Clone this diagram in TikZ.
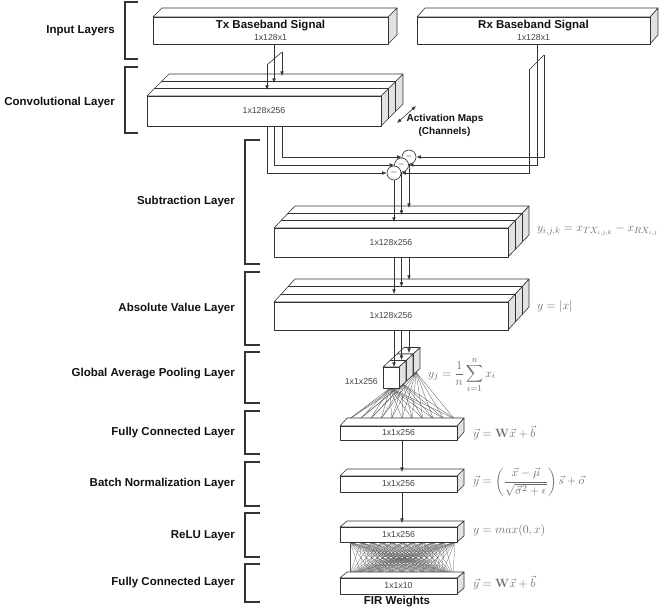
\documentclass[tikz,border=0pt]{standalone}
\usepackage{amsmath}
\usepackage[no-math]{fontspec}
\setmainfont{Liberation Sans}
\usetikzlibrary{arrows.meta}
\definecolor{edgec}{HTML}{333333}
\definecolor{sidec}{HTML}{E2E2E2}
\definecolor{formc}{HTML}{6A6A6A}
\definecolor{labc}{HTML}{111111}
\definecolor{dimc}{HTML}{444444}
\definecolor{meshc}{HTML}{555555}
\tikzset{
 boxe/.style={draw=edgec, line width=0.6pt, line join=round},
 conn/.style={draw=edgec, line width=0.6pt},
 arr/.style={conn, -{Latex[length=4.5pt,width=3.6pt]}},
 brk/.style={draw=edgec, line width=1.4pt},
 lab/.style={font=\bfseries\fontsize{11.5}{13}\selectfont, text=labc, anchor=east, inner sep=0},
 ttl/.style={font=\bfseries\fontsize{11.5}{13}\selectfont, text=labc, inner sep=0},
 small/.style={font=\bfseries\fontsize{10}{12}\selectfont, text=labc, inner sep=0},
 dim/.style={font=\fontsize{8.7}{10}\selectfont, text=dimc, inner sep=0},
 form/.style={font=\fontsize{13}{15}\selectfont, text=formc, anchor=west, inner sep=0},
 fan/.style={draw=meshc, line width=0.3pt},
 minus/.style={circle, draw=edgec, fill=white, line width=0.6pt, minimum size=14pt, inner sep=0, font=\fontsize{8}{8}\selectfont},
}
% x, y (front top-left), w, h, dx, dy, layers, name, text
\newcommand{\cuboid}[9]{%
 \filldraw[boxe, fill=sidec] (#1+#3,#2) -- ++(#5,-#6) -- ++(0,#4) -- ++(-#5,#6) -- cycle;
 \filldraw[boxe, fill=white] (#1,#2) -- ++(#5,-#6) -- ++(#3,0) -- ++(-#5,#6) -- cycle;
 \ifnum#7=3
  \draw[boxe] (#1+#5/3,#2-#6/3) -- ++(#3,0) (#1+#5*2/3,#2-#6*2/3) -- ++(#3,0);
  \draw[boxe] (#1+#3+#5/3,#2-#6/3) -- ++(0,#4) (#1+#3+#5*2/3,#2-#6*2/3) -- ++(0,#4);
 \fi
 \node[boxe, fill=white, minimum width=#3, minimum height=#4, anchor=north west, inner sep=0, outer sep=0, dim] (#8) at (#1,#2) {#9};
}
\begin{document}
\begin{tikzpicture}[x=1pt,y=-1pt]
\useasboundingbox (0,0) rectangle (665,609);
% ---------- brackets and labels ----------
\draw[brk] (138,2) -- (125,2) -- (125,59) -- (138,59);
\draw[brk] (138,67) -- (125,67) -- (125,133) -- (138,133);
\draw[brk] (260,140) -- (245,140) -- (245,264) -- (260,264);
\draw[brk] (260,272) -- (245,272) -- (245,345) -- (260,345);
\draw[brk] (260,352) -- (245,352) -- (245,403) -- (260,403);
\draw[brk] (260,411) -- (245,411) -- (245,454) -- (260,454);
\draw[brk] (260,462) -- (245,462) -- (245,506) -- (260,506);
\draw[brk] (260,513) -- (245,513) -- (245,557) -- (260,557);
\draw[brk] (260,564) -- (245,564) -- (245,602) -- (260,602);
\node[lab] (l1) at (115,31) {Input Layers};
\node[lab] (l2) at (115,103) {Convolutional Layer};
\node[lab] (l3) at (235,202) {Subtraction Layer};
\node[lab] (l4) at (235,309) {Absolute Value Layer};
\node[lab] (l5) at (235,374) {Global Average Pooling Layer};
\node[lab] (l6) at (235,433) {Fully Connected Layer};
\node[lab] (l7) at (235,484) {Batch Normalization Layer};
\node[lab] (l8) at (235,536) {ReLU Layer};
\node[lab] (l9) at (235,583) {Fully Connected Layer};
% ---------- input boxes ----------
\cuboid{153}{17}{235}{27}{9}{9}{1}{tx}{}
\cuboid{417}{17}{233}{27}{8}{9}{1}{rx}{}
\node[ttl] (txt) at (270.5,25.5) {Tx Baseband Signal};
\node[dim] (txd) at (270.5,37.5) {1x128x1};
\node[ttl] (rxt) at (533.5,25.5) {Rx Baseband Signal};
\node[dim] (rxd) at (533.5,37.5) {1x128x1};
% ---------- convolutional layer ----------
\cuboid{147}{96}{234}{30}{22}{22}{3}{conv}{1x128x256}
\coordinate (txo) at (274,44);
\coordinate (tx1) at (267,65);
\coordinate (tx3) at (282,52);
\coordinate (cvi1) at (267,90);
\coordinate (cvi2) at (274,83);
\coordinate (cvi3) at (282,76);
\draw[conn] (tx1) -- (tx3);
\draw[arr] (tx1) -- (cvi1);
\draw[arr] (txo) -- (cvi2);
\draw[arr] (tx3) -- (cvi3);
\coordinate (am1) at (397,123);
\coordinate (am2) at (416,106);
\draw[conn, {Latex[length=4.5pt,width=3.6pt]}-{Latex[length=4.5pt,width=3.6pt]}] (am1) -- (am2);
\node[small] (amt) at (445,118.5) {Activation Maps};
\node[small] (amc) at (444.5,131.5) {(Channels)};
% ---------- subtraction ----------
\node[minus] (c1) at (409,157) {$-$};
\node[minus] (c2) at (401.5,165) {$-$};
\node[minus] (c3) at (394,173) {$-$};
\coordinate (rxo) at (537,44);
\coordinate (rx1) at (529,70);
\coordinate (rx3) at (544,55);
\draw[conn] (rx1) -- (rx3);
\coordinate (cvo1) at (267,126);
\coordinate (cvo2) at (274,126);
\coordinate (cvo3) at (282,126);
\draw[arr] (cvo3) |- (c1.west);
\draw[arr] (cvo2) |- (c2.west);
\draw[arr] (cvo1) |- (c3.west);
\draw[arr] (rx3) |- (c1.east);
\draw[arr] (rxo) |- (c2.east);
\draw[arr] (rx1) |- (c3.east);
\cuboid{274}{228}{234}{29}{21}{22}{3}{sub}{1x128x256}
\coordinate (sbi1) at (394,222);
\coordinate (sbi2) at (401.5,215);
\coordinate (sbi3) at (409,208);
\draw[arr] (c3.south) -- (sbi1);
\draw[arr] (c2.south) -- (sbi2);
\draw[arr] (c1.south) -- (sbi3);
\node[form] (f1) at (537,230) {$y_{i,j,k} = x_{TX_{i,j,k}} - x_{RX_{i,j}}$};
% ---------- absolute value ----------
\cuboid{274}{302}{234}{28}{21}{23}{3}{abs}{1x128x256}
\coordinate (sbo1) at (394,257);
\coordinate (sbo2) at (401.5,257);
\coordinate (sbo3) at (409,257);
\coordinate (abi1) at (394,294);
\coordinate (abi2) at (401.5,287);
\coordinate (abi3) at (409,280);
\draw[arr] (sbo1) -- (abi1);
\draw[arr] (sbo2) -- (abi2);
\draw[arr] (sbo3) -- (abi3);
\node[form] (f2) at (537,307) {$y = |x|$};
% ---------- GAP fan lines ----------
\foreach \sx/\sy in {390/388, 403/384, 416/372}{
  \foreach \j in {0,...,10}{
    \draw[fan] (\sx,\sy) -- (350+10.4*\j,418.5);
  }
}
\cuboid{340}{426}{117}{14}{7}{8}{1}{fc1}{1x1x256}
% ---------- GAP cubes ----------
\cuboid{397}{354}{16}{21}{7}{6.5}{1}{gap2}{}
\cuboid{390}{360.5}{16}{21}{7}{6.5}{1}{gap1}{}
\cuboid{383}{367}{16}{21}{7}{6.5}{1}{gap0}{}
\coordinate (abo1) at (394,330);
\coordinate (abo2) at (401.5,330);
\coordinate (abo3) at (409,330);
\coordinate (gpi1) at (394,367);
\coordinate (gpi2) at (401.5,360);
\coordinate (gpi3) at (409,353);
\draw[arr] (abo1) -- (gpi1);
\draw[arr] (abo2) -- (gpi2);
\draw[arr] (abo3) -- (gpi3);
\node[dim, anchor=east] (gpd) at (378,382) {1x1x256};
\node[form] (f3) at (428,375) {$y_j = \dfrac{1}{n}\displaystyle\sum_{i=1}^{n} x_i$};
\node[form] (f4) at (473,433) {$\vec{y} = \mathbf{W}\vec{x} + \vec{b}$};
% ---------- batch norm ----------
\cuboid{340}{476}{117}{16}{7}{7}{1}{bn}{1x1x256}
\draw[arr] ([xshift=3.5pt]fc1.south) -- ([xshift=3.5pt,yshift=4pt]bn.north);
\node[form] (f5) at (473,482) {$\vec{y} = \left(\dfrac{\vec{x}-\vec{\mu}}{\sqrt{\vec{\sigma}^2+\epsilon}}\right)\vec{s} + \vec{o}$};
% ---------- ReLU + FC mesh ----------
\foreach \i in {0,...,10}{
  \foreach \j in {0,...,9}{
    \draw[draw=meshc, line width=0.22pt] (350+10.5*\i,542) -- (350+11.44*\j,575);
  }
}
\cuboid{340}{527}{117}{15}{7}{6}{1}{relu}{1x1x256}
\draw[arr] ([xshift=3.5pt]bn.south) -- ([xshift=3.5pt,yshift=4pt]relu.north);
\node[form] (f6) at (473,531) {$y = max(0,x)$};
\cuboid{340}{578}{117}{16}{7}{6}{1}{fc2}{1x1x10}
\node[form] (f7) at (473,583) {$\vec{y} = \mathbf{W}\vec{x} + \vec{b}$};
\node[ttl] (fir) at (397,602) {FIR Weights};
\end{tikzpicture}
\end{document}
